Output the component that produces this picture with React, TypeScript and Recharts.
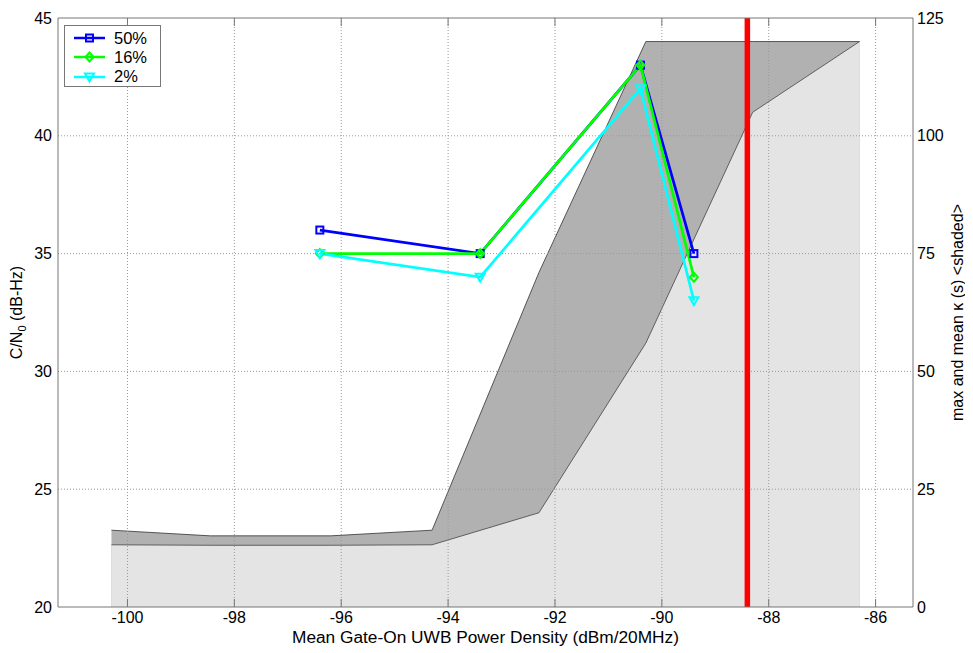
import React from "react";
import {
  ComposedChart,
  Line,
  Area,
  XAxis,
  YAxis,
  ReferenceLine,
} from "recharts";

// shaded kappa (right axis, seconds)
const shadeX = [-100.3, -98.45, -96.2, -94.3, -92.3, -90.3, -88.3, -86.3];
const kappaMax = [16.3, 15.1, 15.1, 16.3, 71, 120, 120, 120];
const kappaMean = [13.2, 13.1, 13.1, 13.2, 20, 56, 105, 120];

// C/N0 percentiles (left axis, dB-Hz)
const lineX = [-96.4, -93.4, -90.4, -89.4];
const cn0p50 = [36, 35, 43, 35];
const cn0p16 = [35, 35, 43, 34];
const cn0p2 = [35, 34, 42, 33];

const xTicks = [-100, -98, -96, -94, -92, -90, -88, -86];
const leftTicks = [20, 25, 30, 35, 40, 45];
const rightTicks = [0, 25, 50, 75, 100, 125];
const redLineX = -88.4;

type Row = {
  x: number;
  max?: number;
  mean?: number;
  p50?: number;
  p16?: number;
  p2?: number;
};

const rowMap = new Map<number, Row>();
const rowAt = (x: number) => {
  if (!rowMap.has(x)) rowMap.set(x, { x });
  return rowMap.get(x) as Row;
};
shadeX.forEach((x, i) => {
  const r = rowAt(x);
  r.max = kappaMax[i];
  r.mean = kappaMean[i];
});
lineX.forEach((x, i) => {
  const r = rowAt(x);
  r.p50 = cn0p50[i];
  r.p16 = cn0p16[i];
  r.p2 = cn0p2[i];
});
const data = Array.from(rowMap.values()).sort((a, b) => a.x - b.x);

const FONT = '"Liberation Sans", Arial, sans-serif';
const AXIS = "#777";
const GRID = "#999";

const SquareDot = (p: any) => {
  if (p.cy == null || p.value == null) return <g key={p.key} />;
  return (
    <rect key={p.key} x={p.cx - 3.5} y={p.cy - 3.5} width={7} height={7}
      fill="none" stroke={p.stroke} strokeWidth={2} />
  );
};

const DiamondDot = (p: any) => {
  if (p.cy == null || p.value == null) return <g key={p.key} />;
  const { cx, cy } = p;
  return (
    <polygon key={p.key}
      points={`${cx},${cy - 4.5} ${cx + 4},${cy} ${cx},${cy + 4.5} ${cx - 4},${cy}`}
      fill="none" stroke={p.stroke} strokeWidth={2} />
  );
};

const TriDot = (p: any) => {
  if (p.cy == null || p.value == null) return <g key={p.key} />;
  const { cx, cy } = p;
  return (
    <polygon key={p.key}
      points={`${cx - 4.5},${cy - 3.5} ${cx + 4.5},${cy - 3.5} ${cx},${cy + 4.5}`}
      fill="none" stroke={p.stroke} strokeWidth={2} />
  );
};

const EmptyTick = () => <g />;

const LeftTitle = (props: any) => {
  const vb = props.viewBox;
  const cx = vb.x + 14;
  const cy = vb.y + vb.height / 2;
  return (
    <text x={cx} y={cy} transform={`rotate(-90, ${cx}, ${cy})`} textAnchor="middle"
      fontFamily={FONT} fontSize={16} fill="#000">
      C/N<tspan dy={4} fontSize={11}>0</tspan>
      <tspan dy={-4}> (dB-Hz)</tspan>
    </text>
  );
};

const RightTitle = (props: any) => {
  const vb = props.viewBox;
  const cx = vb.x + 50;
  const cy = vb.y + vb.height / 2;
  return (
    <text x={cx} y={cy} transform={`rotate(-90, ${cx}, ${cy})`} textAnchor="middle"
      fontFamily={FONT} fontSize={16} fill="#000">
      max and mean κ (s) &lt;shaded&gt;
    </text>
  );
};

const BottomTitle = (props: any) => {
  const vb = props.viewBox;
  return (
    <text x={vb.x + vb.width / 2} y={vb.y + 36} textAnchor="middle"
      fontFamily={FONT} fontSize={17.3} fill="#000">
      Mean Gate-On UWB Power Density (dBm/20MHz)
    </text>
  );
};

const legendItems = [
  { name: "50%", color: "#0000ff", shape: "square" },
  { name: "16%", color: "#00ff00", shape: "diamond" },
  { name: "2%", color: "#00ffff", shape: "tri" },
];

const LegendBox = () => (
  <div
    style={{
      position: "absolute",
      left: 56,
      top: 17,
      width: 97,
      height: 62,
      border: `1px solid ${AXIS}`,
      background: "#fff",
      boxSizing: "border-box",
      fontFamily: FONT,
      fontSize: 16.5,
    }}
  >
    {legendItems.map((it, i) => (
      <div key={it.name} style={{ position: "absolute", left: 8, top: 2.5 + i * 19.3, height: 19, display: "flex", alignItems: "center" }}>
        <svg width={34} height={14}>
          <line x1={1} y1={7} x2={32} y2={7} stroke={it.color} strokeWidth={2.5} />
          {it.shape === "square" && (
            <rect x={13} y={3.5} width={7} height={7} fill="none" stroke={it.color} strokeWidth={2} />
          )}
          {it.shape === "diamond" && (
            <polygon points="16.5,2.5 20.5,7 16.5,11.5 12.5,7" fill="none" stroke={it.color} strokeWidth={2} />
          )}
          {it.shape === "tri" && (
            <polygon points="12,3.5 21,3.5 16.5,11.5" fill="none" stroke={it.color} strokeWidth={2} />
          )}
        </svg>
        <span style={{ marginLeft: 7, lineHeight: "19px" }}>{it.name}</span>
      </div>
    ))}
  </div>
);

const tickStyle = { fontFamily: FONT, fontSize: 16, fill: "#000" };

export default function App() {
  return (
    <div style={{ position: "relative", width: 965, height: 645 }}>
      <ComposedChart
        width={965}
        height={645}
        data={data}
        margin={{ top: 10, right: 0, bottom: 0, left: 0 }}
      >
        <XAxis
          dataKey="x"
          type="number"
          domain={[-101.3, -85.3]}
          allowDataOverflow
          ticks={xTicks}
          tick={tickStyle}
          tickLine={false}
          tickSize={5}
          tickMargin={0}
          axisLine={{ stroke: AXIS }}
          height={46}
          label={<BottomTitle />}
        />
        <XAxis
          xAxisId="bt"
          dataKey="x"
          type="number"
          domain={[-101.3, -85.3]}
          allowDataOverflow
          ticks={xTicks}
          mirror
          tick={<EmptyTick />}
          tickSize={8}
          tickLine={{ stroke: AXIS }}
          axisLine={false}
        />
        <XAxis
          xAxisId="top"
          orientation="top"
          dataKey="x"
          type="number"
          domain={[-101.3, -85.3]}
          allowDataOverflow
          ticks={xTicks}
          mirror
          tick={<EmptyTick />}
          tickSize={8}
          tickLine={{ stroke: AXIS }}
          axisLine={{ stroke: AXIS }}
        />
        <YAxis
          yAxisId="left"
          type="number"
          domain={[20, 45]}
          ticks={leftTicks}
          tick={tickStyle}
          tickLine={false}
          tickSize={4}
          tickMargin={2}
          axisLine={{ stroke: AXIS }}
          width={50}
          label={<LeftTitle />}
        />
        <YAxis
          yAxisId="leftTicks"
          type="number"
          domain={[20, 45]}
          ticks={leftTicks}
          mirror
          tick={<EmptyTick />}
          tickSize={8}
          tickLine={{ stroke: AXIS }}
          axisLine={false}
        />
        <YAxis
          yAxisId="right"
          orientation="right"
          type="number"
          domain={[0, 125]}
          ticks={rightTicks}
          tick={tickStyle}
          tickLine={false}
          tickSize={3}
          tickMargin={1}
          axisLine={{ stroke: AXIS }}
          width={60}
          label={<RightTitle />}
        />
        <YAxis
          yAxisId="rightTicks"
          orientation="right"
          type="number"
          domain={[0, 125]}
          ticks={rightTicks}
          mirror
          tick={<EmptyTick />}
          tickSize={8}
          tickLine={{ stroke: AXIS }}
          axisLine={false}
        />
        <Area
          yAxisId="right"
          type="linear"
          dataKey="max"
          connectNulls
          fill="#b1b1b1"
          fillOpacity={1}
          stroke="#333"
          strokeWidth={0.8}
          dot={false}
          activeDot={false}
          isAnimationActive={false}
        />
        <Area
          yAxisId="right"
          type="linear"
          dataKey="mean"
          connectNulls
          fill="#e4e4e4"
          fillOpacity={1}
          stroke="#444"
          strokeWidth={0.8}
          dot={false}
          activeDot={false}
          isAnimationActive={false}
        />
        {xTicks.map((t) => (
          <ReferenceLine key={`gx${t}`} yAxisId="left" x={t} stroke={GRID} strokeDasharray="1 2" />
        ))}
        {leftTicks.slice(1, -1).map((t) => (
          <ReferenceLine key={`gy${t}`} yAxisId="left" y={t} stroke={GRID} strokeDasharray="1 2" />
        ))}
        <ReferenceLine yAxisId="left" x={redLineX} stroke="#ff0000" strokeWidth={5.5} />
        <Line
          yAxisId="left"
          type="linear"
          dataKey="p50"
          connectNulls
          stroke="#0000ff"
          strokeWidth={2.7}
          dot={SquareDot}
          activeDot={false}
          isAnimationActive={false}
        />
        <Line
          yAxisId="left"
          type="linear"
          dataKey="p16"
          connectNulls
          stroke="#00ff00"
          strokeWidth={2.7}
          dot={DiamondDot}
          activeDot={false}
          isAnimationActive={false}
        />
        <Line
          yAxisId="left"
          type="linear"
          dataKey="p2"
          connectNulls
          stroke="#00ffff"
          strokeWidth={2.7}
          dot={TriDot}
          activeDot={false}
          isAnimationActive={false}
        />
      </ComposedChart>
      <LegendBox />
    </div>
  );
}
